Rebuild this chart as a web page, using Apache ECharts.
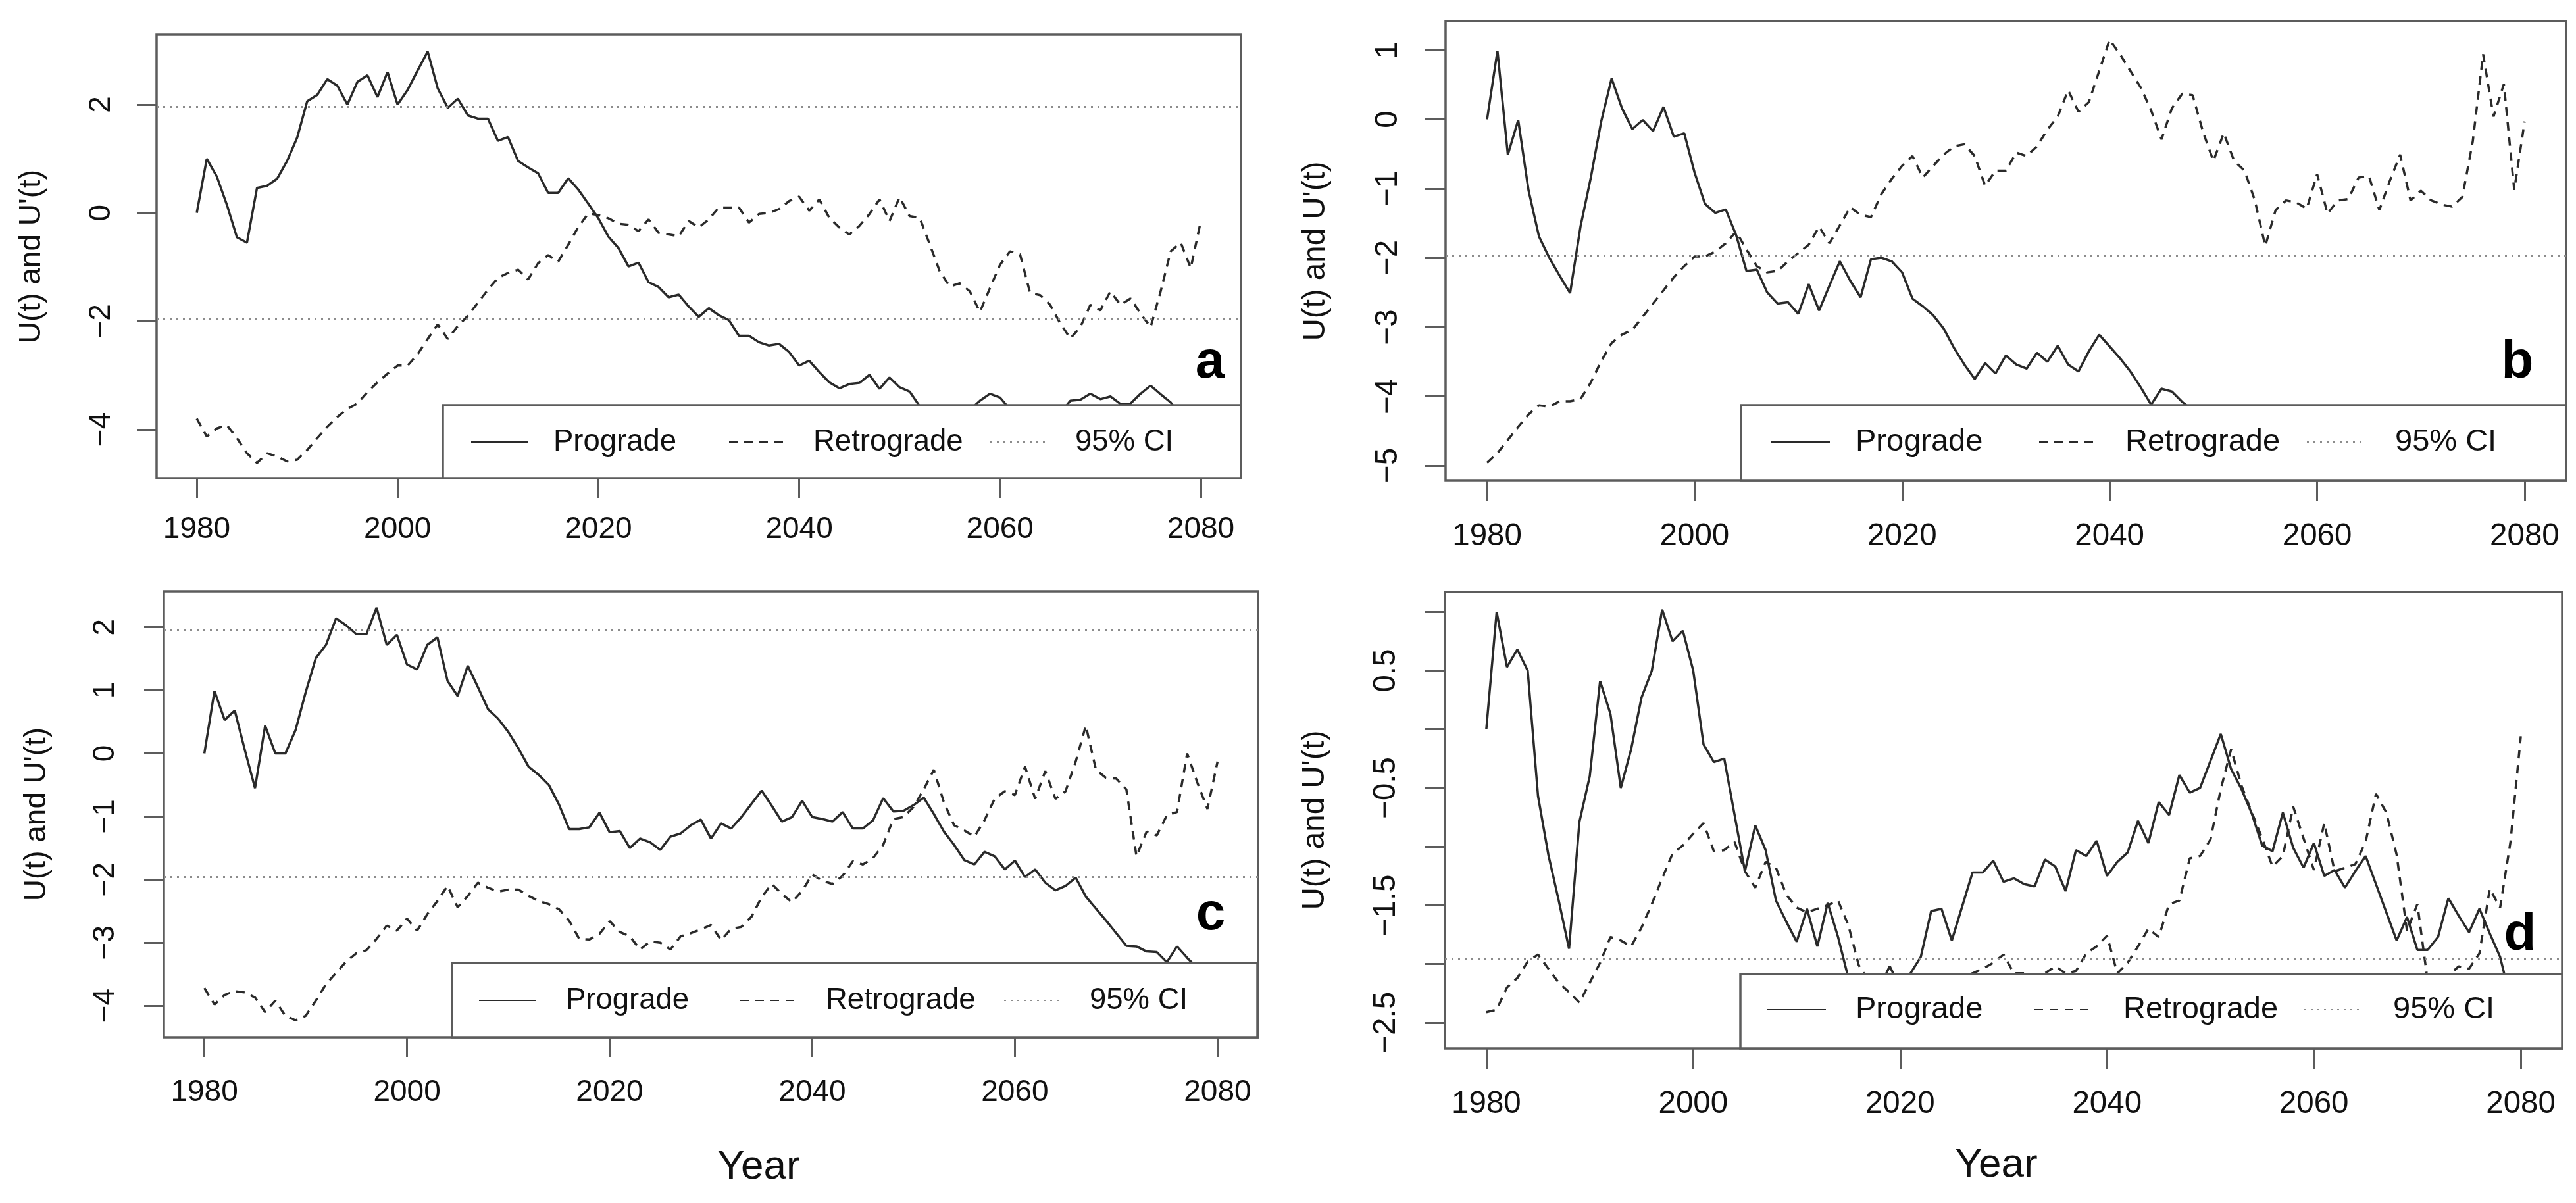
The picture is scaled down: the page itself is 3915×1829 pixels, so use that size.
<!DOCTYPE html>
<html>
<head>
<meta charset="utf-8">
<script src="https://cdn.jsdelivr.net/npm/echarts@6/dist/echarts.min.js"></script>
<style>
html,body{margin:0;padding:0;background:#fff;}
#chart{width:3915px;height:1829px;}
</style>
</head>
<body>
<div id="chart"></div>
<script>
// ---------------- DATA ----------------
const years = [];
for (let y = 1980; y <= 2080; y++) years.push(y);

const xTickValues = [1980, 2000, 2020, 2040, 2060, 2080];
const yTicksA = [-4, -2, 0, 2];
const yTicksB = [-5, -4, -3, -2, -1, 0, 1];
const yTicksC = [-4, -3, -2, -1, 0, 1, 2];
const yTicksD = [-2.5, -2, -1.5, -1, -0.5, 0, 0.5, 1];
const yLabelsD = [-2.5, -1.5, -0.5, 0.5];
const ciBoth = [1.96, -1.96];
const ciLower = [-1.96];
const legendNames = ['Prograde', 'Retrograde', '95% CI'];
const panelLetters = ['a', 'b', 'c', 'd'];
const yTitle = "U(t) and U'(t)";
const xTitle = 'Year';

// Panel a
const aPro = [
  0, 1.0, 0.67, 0.15, -0.45, -0.55, 0.46, 0.5, 0.63, 0.96,
  1.39, 2.06, 2.18, 2.47, 2.35, 2.0, 2.42, 2.54, 2.14, 2.6,
  2.0, 2.27, 2.63, 2.98, 2.3, 1.94, 2.11, 1.8, 1.74, 1.74,
  1.33, 1.4, 0.96, 0.84, 0.73, 0.37, 0.37, 0.64, 0.43, 0.17,
  -0.1, -0.44, -0.65, -0.99, -0.92, -1.28, -1.37, -1.56, -1.51, -1.73,
  -1.92, -1.76, -1.89, -1.98, -2.27, -2.27, -2.39, -2.45, -2.42, -2.57,
  -2.82, -2.73, -2.94, -3.13, -3.24, -3.16, -3.14, -2.99, -3.25, -3.04,
  -3.22, -3.3, -3.57, -3.75, -3.85, -3.9, -3.8, -3.64, -3.47, -3.34,
  -3.41, -3.63, -3.58, -3.72, -3.8, -3.75, -3.7, -3.47, -3.45, -3.34,
  -3.44, -3.39, -3.53, -3.52, -3.34, -3.19, -3.35, -3.5, -3.75, -3.9,
  -4.0
];
const aRet = [
  -3.8, -4.13, -3.98, -3.92, -4.16, -4.44, -4.62, -4.44, -4.5, -4.59,
  -4.56, -4.38, -4.16, -3.95, -3.77, -3.62, -3.52, -3.31, -3.13, -2.97,
  -2.82, -2.82, -2.61, -2.33, -2.06, -2.33, -2.09, -1.9, -1.66, -1.42,
  -1.2, -1.11, -1.05, -1.23, -0.93, -0.78, -0.9, -0.59, -0.26, -0.01,
  -0.04, -0.1, -0.2, -0.22, -0.34, -0.12, -0.37, -0.4, -0.43, -0.15,
  -0.27, -0.12, 0.1, 0.1, 0.1, -0.18, -0.02, 0.0, 0.07, 0.22,
  0.3, 0.04, 0.25, -0.09, -0.27, -0.4, -0.24, -0.02, 0.25, -0.15,
  0.29, -0.06, -0.09, -0.58, -1.08, -1.36, -1.3, -1.45, -1.83, -1.39,
  -0.96, -0.71, -0.77, -1.48, -1.52, -1.7, -2.04, -2.32, -2.11, -1.7,
  -1.8, -1.45, -1.7, -1.58, -1.86, -2.11, -1.45, -0.71, -0.55, -1.02,
  -0.15
];

// Panel b
const bPro = [
  0, 0.99, -0.51, -0.01, -1.03, -1.69, -2.0, -2.26, -2.51, -1.55,
  -0.84, -0.03, 0.59, 0.16, -0.14, -0.01, -0.17, 0.18, -0.25, -0.2,
  -0.77, -1.22, -1.35, -1.3, -1.67, -2.19, -2.17, -2.5, -2.66, -2.64,
  -2.81, -2.38, -2.76, -2.4, -2.05, -2.33, -2.57, -2.02, -2.0, -2.05,
  -2.21, -2.59, -2.7, -2.83, -3.02, -3.3, -3.54, -3.75, -3.52, -3.67,
  -3.41, -3.54, -3.6, -3.37, -3.5, -3.27, -3.54, -3.64, -3.35, -3.11,
  -3.28, -3.45, -3.64, -3.87, -4.12, -3.89, -3.93, -4.08, -4.2, -4.3,
  -4.35, -4.3, -4.45, -4.5, -4.45, -4.6, -4.55, -4.65, -4.6, -4.7,
  -4.65, -4.75, -4.7, -4.8, -4.75, -4.85, -4.8, -4.7, -4.75, -4.85,
  -4.8, -4.9, -4.85, -4.8, -4.9, -4.85, -4.75, -4.8, -4.9, -4.85,
  -4.9
];
const bRet = [
  -4.96, -4.82, -4.63, -4.44, -4.26, -4.13, -4.15, -4.07, -4.07, -4.04,
  -3.8, -3.49, -3.23, -3.11, -3.04, -2.85, -2.66, -2.47, -2.28, -2.12,
  -1.98, -1.98, -1.91, -1.79, -1.62, -1.88, -2.12, -2.21, -2.19, -2.05,
  -1.93, -1.81, -1.55, -1.79, -1.53, -1.27, -1.38, -1.41, -1.08, -0.86,
  -0.67, -0.53, -0.84, -0.67, -0.51, -0.39, -0.36, -0.53, -0.96, -0.74,
  -0.74, -0.48, -0.53, -0.39, -0.15, 0.04, 0.42, 0.11, 0.25, 0.7,
  1.15, 0.94, 0.7, 0.46, 0.13, -0.29, 0.16, 0.37, 0.35, -0.18,
  -0.6, -0.2, -0.6, -0.74, -1.17, -1.83, -1.31, -1.17, -1.2, -1.29,
  -0.79, -1.36, -1.17, -1.15, -0.84, -0.82, -1.31, -0.89, -0.51, -1.17,
  -1.03, -1.17, -1.23, -1.26, -1.12, -0.32, 0.94, 0.04, 0.51, -1.02,
  -0.03
];

// Panel c
const cPro = [
  0, 0.99, 0.53, 0.68, 0.05, -0.55, 0.44, 0, 0, 0.37,
  0.97, 1.51, 1.72, 2.14, 2.03, 1.89, 1.89, 2.31, 1.72, 1.88,
  1.41, 1.33, 1.72, 1.84, 1.15, 0.91, 1.39, 1.05, 0.7, 0.55,
  0.34, 0.08, -0.21, -0.34, -0.5, -0.81, -1.2, -1.2, -1.17, -0.94,
  -1.25, -1.23, -1.5, -1.35, -1.41, -1.53, -1.32, -1.27, -1.14, -1.05,
  -1.35, -1.11, -1.19, -1.01, -0.8, -0.59, -0.83, -1.08, -1.01, -0.75,
  -1.01, -1.04, -1.08, -0.93, -1.19, -1.19, -1.06, -0.71, -0.92, -0.91,
  -0.82, -0.7, -0.96, -1.24, -1.45, -1.69, -1.76, -1.56, -1.63, -1.84,
  -1.7, -1.96, -1.84, -2.05, -2.17, -2.1, -1.97, -2.27, -2.46, -2.65,
  -2.85, -3.05, -3.06, -3.14, -3.15, -3.31, -3.06, -3.24, -3.4, -3.5,
  -3.6
];
const cRet = [
  -3.72, -3.98, -3.83, -3.77, -3.79, -3.87, -4.1, -3.92, -4.16, -4.23,
  -4.16, -3.92, -3.66, -3.48, -3.3, -3.17, -3.12, -2.94, -2.73, -2.81,
  -2.62, -2.81, -2.55, -2.34, -2.1, -2.44, -2.26, -2.05, -2.13, -2.19,
  -2.16, -2.16, -2.26, -2.34, -2.39, -2.47, -2.65, -2.94, -2.95, -2.86,
  -2.66, -2.83, -2.9, -3.11, -2.98, -3.0, -3.11, -2.9, -2.85, -2.79,
  -2.72, -2.96, -2.78, -2.75, -2.59, -2.28, -2.07, -2.23, -2.36, -2.18,
  -1.92, -2.02, -2.07, -1.94, -1.71, -1.76, -1.66, -1.45, -1.04, -1.01,
  -0.85, -0.57, -0.26, -0.78, -1.14, -1.22, -1.32, -1.06, -0.72, -0.6,
  -0.66, -0.21, -0.72, -0.28, -0.72, -0.6, -0.13, 0.44, -0.26, -0.39,
  -0.4, -0.57, -1.63, -1.24, -1.3, -0.98, -0.93, 0.0, -0.46, -0.88,
  -0.13
];

// Panel d
const dPro = [
  0, 1.0, 0.53, 0.68, 0.5, -0.57, -1.07, -1.46, -1.87, -0.79,
  -0.4, 0.41, 0.13, -0.5, -0.17, 0.27, 0.5, 1.02, 0.75, 0.84,
  0.5, -0.13, -0.28, -0.25, -0.73, -1.21, -0.82, -1.03, -1.46, -1.64,
  -1.81, -1.53, -1.85, -1.48, -1.77, -2.12, -2.3, -2.35, -2.2, -2.02,
  -2.2, -2.08, -1.94, -1.55, -1.53, -1.8, -1.51, -1.22, -1.22, -1.12,
  -1.3, -1.27, -1.32, -1.34, -1.11, -1.17, -1.38, -1.03, -1.08, -0.95,
  -1.25, -1.13, -1.05, -0.78, -0.97, -0.62, -0.73, -0.39, -0.54, -0.5,
  -0.27, -0.04, -0.34, -0.51, -0.72, -0.99, -1.04, -0.71, -1.01, -1.18,
  -0.97, -1.25, -1.2, -1.35, -1.21, -1.08, -1.32, -1.56, -1.8, -1.6,
  -1.88, -1.88, -1.77, -1.44, -1.59, -1.73, -1.53, -1.74, -1.94, -2.3,
  -2.58
];
const dRet = [
  -2.41, -2.39, -2.2, -2.12, -1.98, -1.92, -2.04, -2.16, -2.24, -2.33,
  -2.16, -1.99, -1.77, -1.8, -1.85, -1.69, -1.49, -1.27, -1.06, -0.99,
  -0.89, -0.8, -1.04, -1.03, -0.96, -1.21, -1.35, -1.13, -1.18, -1.41,
  -1.52, -1.56, -1.53, -1.5, -1.46, -1.67, -2.01, -2.15, -2.2, -2.2,
  -2.15, -2.12, -2.1, -2.12, -2.1, -2.15, -2.1, -2.08, -2.04, -1.99,
  -1.92, -2.08, -2.08, -2.09, -2.08, -2.02, -2.08, -2.06, -1.91, -1.85,
  -1.76, -2.08, -1.99, -1.85, -1.7, -1.77, -1.49, -1.46, -1.1, -1.08,
  -0.94, -0.51, -0.17, -0.48, -0.71, -0.93, -1.17, -1.08, -0.66, -0.93,
  -1.2, -0.8, -1.21, -1.18, -1.15, -0.96, -0.55, -0.71, -1.07, -1.72,
  -1.49, -2.15, -2.2, -2.1, -2.02, -2.04, -1.91, -1.36, -1.52, -0.96,
  -0.06
];

// ---------------- LAYOUT / STYLE ----------------
const FONT = "'Liberation Sans', Arial, Helvetica, sans-serif";
const INK = '#2a2a2a';
const FRAME = '#5c5c5c';
const CI_COLOR = '#8c8c8c';

const panels = [
  { pro: aPro, ret: aRet, ci: ciBoth, ticks: yTicksA, labels: yTicksA,
    grid: { left: 238, top: 52, width: 1648, height: 675 }, yMin: -4.9, yMax: 3.3,
    fs: 46, tick: 30, xMargin: 55, yMargin: 61,
    legBox: [673, 616, 1213, 111], legIcon: [715, 1107, 1504], legText: [840, 1235, 1633], legY: 672, iconW: 86,
    yTitlePos: [48, 390], letterPos: [1839, 552] },
  { pro: bPro, ret: bRet, ci: ciLower, ticks: yTicksB, labels: yTicksB,
    grid: { left: 2197, top: 32, width: 1703, height: 699 }, yMin: -5.22, yMax: 1.42,
    fs: 47.5, tick: 31, xMargin: 61, yMargin: 63,
    legBox: [2646, 616, 1254, 115], legIcon: [2691, 3098, 3505], legText: [2819, 3229, 3639], legY: 672, iconW: 89,
    yTitlePos: [2000, 382], letterPos: [3826, 552] },
  { pro: cPro, ret: cRet, ci: ciBoth, ticks: yTicksC, labels: yTicksC,
    grid: { left: 249, top: 899, width: 1663, height: 678 }, yMin: -4.5, yMax: 2.57,
    fs: 46, tick: 30, xMargin: 61, yMargin: 66,
    legBox: [687, 1464, 1224, 113], legIcon: [727, 1124, 1525], legText: [859, 1254, 1655], legY: 1521, iconW: 86,
    yTitlePos: [56, 1238], letterPos: [1840, 1391] },
  { pro: dPro, ret: dRet, ci: ciLower, ticks: yTicksD, labels: yLabelsD,
    grid: { left: 2196, top: 900, width: 1698, height: 694 }, yMin: -2.72, yMax: 1.17,
    fs: 47.5, tick: 31, xMargin: 61, yMargin: 65,
    legBox: [2645, 1481, 1249, 113], legIcon: [2685, 3091, 3501], legText: [2819, 3226, 3636], legY: 1535, iconW: 89,
    yTitlePos: [1999, 1247], letterPos: [3830, 1422] }
];
const yearTitlePos = [[1153, 1775], [3034, 1772]];

const fmt = v => (v < 0 ? '\u2212' + String(Math.abs(v)) : String(v));

const grids = [], xAxes = [], yAxes = [], series = [], legends = [], graphics = [];

panels.forEach((p, i) => {
  grids.push(Object.assign({ show: true, borderColor: FRAME, borderWidth: 3.5, backgroundColor: 'transparent', outerBoundsMode: 'none', containLabel: false }, p.grid));
  xAxes.push({
    type: 'value', gridIndex: i, min: 1976, max: 2084, position: 'bottom',
    axisLine: { show: false, onZero: false },
    axisTick: { show: true, inside: false, length: p.tick, customValues: xTickValues, lineStyle: { color: FRAME, width: 3 } },
    axisLabel: { show: true, margin: p.xMargin, customValues: xTickValues, color: '#111', fontSize: p.fs, fontFamily: FONT, formatter: v => String(v) },
    splitLine: { show: false }
  });
  yAxes.push({
    type: 'value', gridIndex: i, min: p.yMin, max: p.yMax, position: 'left',
    axisLine: { show: false, onZero: false },
    axisTick: { show: true, inside: false, length: p.tick, customValues: p.ticks, lineStyle: { color: FRAME, width: 3 } },
    axisLabel: { show: true, rotate: 90, margin: p.yMargin, customValues: p.labels, color: '#111', fontSize: p.fs, fontFamily: FONT, formatter: v => fmt(v) },
    splitLine: { show: false }
  });
  series.push({
    name: 'Prograde', type: 'line', xAxisIndex: i, yAxisIndex: i, silent: true,
    data: years.map((y, k) => [y, p.pro[k]]),
    symbol: 'none', showSymbol: false,
    lineStyle: { color: INK, width: 3.5 }, itemStyle: { color: INK }, z: 2
  });
  series.push({
    name: 'Retrograde', type: 'line', xAxisIndex: i, yAxisIndex: i, silent: true,
    data: years.map((y, k) => [y, p.ret[k]]),
    symbol: 'none', showSymbol: false,
    lineStyle: { color: INK, width: 3.5, type: [13, 10] }, itemStyle: { color: INK }, z: 2
  });
  series.push({
    name: '95% CI', type: 'line', xAxisIndex: i, yAxisIndex: i, silent: true,
    data: [], symbol: 'none', showSymbol: false,
    lineStyle: { color: CI_COLOR, width: 3, type: [3, 7] }, itemStyle: { color: CI_COLOR }, z: 2,
    markLine: {
      silent: true, symbol: ['none', 'none'], animation: false,
      label: { show: false },
      lineStyle: { color: CI_COLOR, width: 3, type: [3, 7] },
      data: p.ci.map(v => ({ yAxis: v }))
    }
  });

  // legend box
  graphics.push({
    type: 'rect', z: 10, silent: true,
    shape: { x: p.legBox[0], y: p.legBox[1], width: p.legBox[2], height: p.legBox[3] },
    style: { fill: '#ffffff', stroke: FRAME, lineWidth: 3.5 }
  });
  legendNames.forEach((nm, j) => {
    legends.push({
      show: true, data: [nm], selectedMode: false, z: 20,
      left: p.legIcon[j], top: p.legY - 25, padding: 0, itemGap: 0,
      itemWidth: p.iconW, itemHeight: 4,
      itemStyle: { opacity: 0 },
      textStyle: { fontSize: p.fs - 0.5, fontFamily: FONT, color: '#111', lineHeight: 50,
                   padding: [0, 0, 0, p.legText[j] - p.legIcon[j] - p.iconW - 5] }
    });
  });
  // y title
  graphics.push({
    type: 'text', z: 30, silent: true,
    x: p.yTitlePos[0], y: p.yTitlePos[1], rotation: Math.PI / 2,
    style: { text: yTitle, fontSize: p.fs, fontFamily: FONT, fill: '#111', textAlign: 'center', textVerticalAlign: 'middle' }
  });
  // panel letter
  graphics.push({
    type: 'text', z: 30, silent: true,
    x: p.letterPos[0], y: p.letterPos[1],
    style: { text: panelLetters[i], fontSize: 80, fontWeight: 'bold', fontFamily: FONT, fill: '#000', textAlign: 'center', textVerticalAlign: 'middle' }
  });
});

yearTitlePos.forEach(pos => {
  graphics.push({
    type: 'text', z: 30, silent: true, x: pos[0], y: pos[1],
    style: { text: xTitle, fontSize: 62, fontFamily: FONT, fill: '#111', textAlign: 'center', textVerticalAlign: 'middle' }
  });
});

const chart = echarts.init(document.getElementById('chart'), null, { renderer: 'canvas', width: 3915, height: 1829 });
chart.setOption({
  animation: false,
  backgroundColor: '#ffffff',
  grid: grids,
  xAxis: xAxes,
  yAxis: yAxes,
  legend: legends,
  series: series,
  graphic: { elements: graphics }
});
</script>
</body>
</html>
